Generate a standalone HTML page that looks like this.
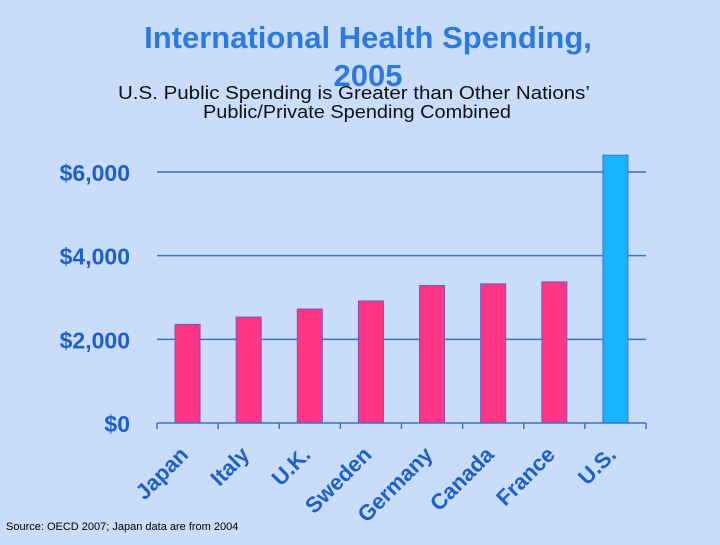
<!DOCTYPE html>
<html><head><meta charset="utf-8"><style>
body{margin:0;width:720px;height:540px;background:#c9ddfb;overflow:hidden;font-family:"Liberation Sans",sans-serif}
</style></head><body>
<svg width="720" height="540">
<text x="368" y="48" text-anchor="middle" font-size="31" font-weight="bold" fill="#2a7ae0">International Health Spending,</text>
<text x="368" y="86" text-anchor="middle" font-size="31" font-weight="bold" fill="#2a7ae0">2005</text>
<text x="354" y="99" text-anchor="middle" font-size="18" fill="#111" textLength="472" lengthAdjust="spacingAndGlyphs">U.S. Public Spending is Greater than Other Nations’</text>
<text x="357" y="118" text-anchor="middle" font-size="18" fill="#111" textLength="308" lengthAdjust="spacingAndGlyphs">Public/Private Spending Combined</text>
<g id="plot"></g>
<text x="6" y="530" font-size="11" fill="#000">Source: OECD 2007; Japan data are from 2004</text>
</svg>
<script>
const categories=["Japan","Italy","U.K.","Sweden","Germany","Canada","France","U.S."];
const values=[2358,2532,2724,2918,3287,3326,3374,6401];
const yTicks=[0,2000,4000,6000];
const yTickLabels=["$0","$2,000","$4,000","$6,000"];
const NS="http://www.w3.org/2000/svg";
const g=document.getElementById('plot');
const x0=157,x1=646,y0=423,yTop=172,yMax=6000;
const y=v=>y0-(v/yMax)*(y0-yTop);
const band=(x1-x0)/categories.length;
const xc=i=>x0+band*(i+0.5);
function mk(t,a){const e=document.createElementNS(NS,t);for(const k in a)e.setAttribute(k,a[k]);g.appendChild(e);return e;}
yTicks.forEach((v,i)=>{
  if(v>0){const l=mk('line',{x1:x0,x2:x1,y1:y(v),y2:y(v),stroke:'#3a73c8','stroke-width':1.5});
  
  }
  const t=mk('text',{x:130,y:y(v)+9,'text-anchor':'end','font-size':23,'font-weight':'bold',fill:'#1d5fcf'});
  t.textContent=yTickLabels[i];
  
  
});
values.forEach((v,i)=>{
  const r=mk('rect',{x:xc(i)-12.5,y:y(v),width:25,height:y0-y(v),fill:i===7?'#19b4fd':'#ff3585',stroke:i===7?'#2a7ad0':'#7a4fc8','stroke-width':1});
  
  
});
const ax=mk('line',{x1:x0,x2:x1,y1:y0,y2:y0,stroke:'#3a73c8','stroke-width':1.5});


for(let i=0;i<=categories.length;i++){
  const tk=mk('line',{x1:x0+band*i,x2:x0+band*i,y1:y0,y2:y0+6,stroke:'#3a73c8','stroke-width':1.5});
  
  
}
categories.forEach((c,i)=>{
  const px=xc(i)+2,py=y0+33;
  const t=mk('text',{x:px,y:py,'text-anchor':'end','font-size':22,'font-weight':'bold',fill:'#1d5fcf',transform:`rotate(-45 ${px} ${py})`});
  t.textContent=c;
  
  
});
</script>
</body></html>
